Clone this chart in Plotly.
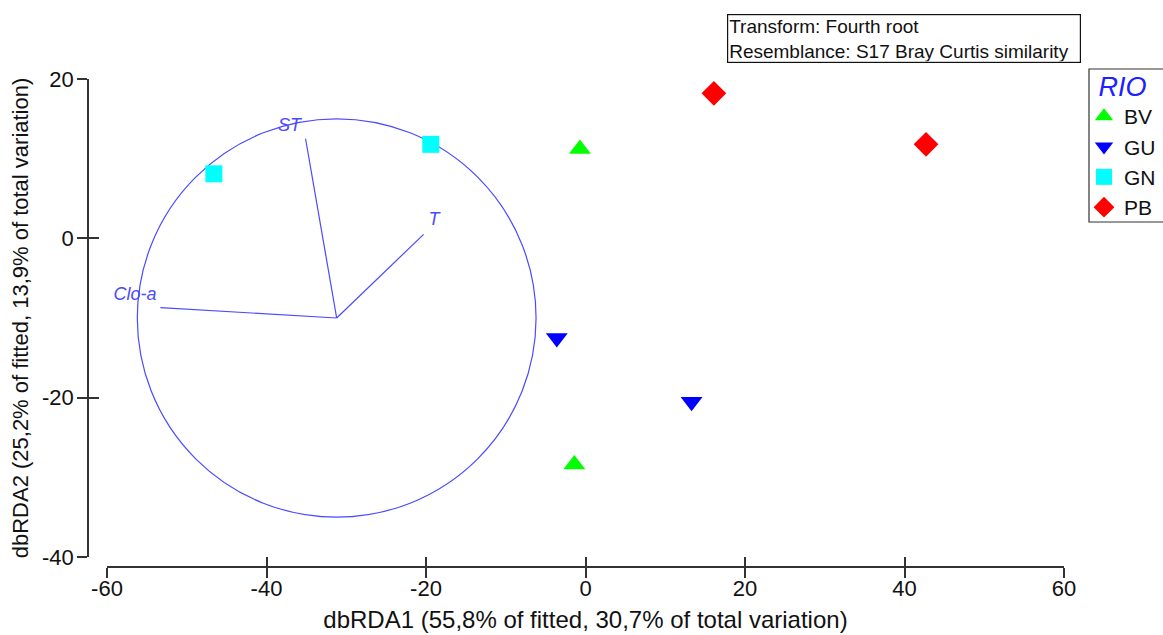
import plotly.graph_objects as go

# ---- data ----
groups = ["BV", "GU", "GN", "PB"]
colors = ["#00ff00", "#0000ff", "#00ffff", "#ff0000"]
symbols = ["triangle-up", "triangle-down", "square", "diamond"]
x_bv = [-0.7, -1.4]
y_bv = [11.2, -28.4]
x_gu = [-3.6, 13.3]
y_gu = [-12.5, -20.5]
x_gn = [-46.6, -19.4]
y_gn = [8.1, 11.8]
x_pb = [16.1, 42.7]
y_pb = [18.2, 11.8]
xs = [x_bv, x_gu, x_gn, x_pb]
ys = [y_bv, y_gu, y_gn, y_pb]
marker_sizes = [19, 19, 17, 19]

# vector overlay (origin, endpoints, labels)
vec_origin = (-31.2, -10.0)
vec_names = ["ST", "T", "Clo-a"]
vec_x = [-35.1, -20.3, -53.3]
vec_y = [12.5, 0.5, -8.7]
lab_x = [-37.1, -19.0, -56.5]
lab_y = [14.1, 2.3, -7.2]
circle_r = 25.0

x_ticks = [-60, -40, -20, 0, 20, 40, 60]
x_ticktext = ["-60", "-40", "-20", "0", "20", "40", "60"]
y_ticks = [-40, -20, 0, 20]
y_ticktext = ["-40", "-20", "0", "20"]

FONT = "Liberation Sans, Arial, sans-serif"
VBLUE = "#4a4aff"

# pixel layout helpers (plot area 88..1064 x 79..567)
L, R, T, B = 88, 1064, 79, 567
W, H = R - L, B - T
def px(xp):
    return (xp - L) / W
def py(yp):
    return (B - yp) / H

fig = go.Figure()

# circle
fig.add_shape(type="circle", xref="x", yref="y",
              x0=vec_origin[0] - circle_r, x1=vec_origin[0] + circle_r,
              y0=vec_origin[1] - circle_r, y1=vec_origin[1] + circle_r,
              line=dict(color=VBLUE, width=1.2), layer="below")

# vectors
for name, vx, vy in zip(vec_names, vec_x, vec_y):
    fig.add_trace(go.Scatter(x=[vec_origin[0], vx], y=[vec_origin[1], vy], mode="lines",
                             line=dict(color=VBLUE, width=1.2), showlegend=False,
                             hoverinfo="skip"))
fig.add_trace(go.Scatter(x=lab_x, y=lab_y, mode="text", text=vec_names,
                         textfont=dict(family=FONT, size=18, color=VBLUE, style="italic"),
                         showlegend=False, hoverinfo="skip"))

# points
for g, c, s, sz, gx, gy in zip(groups, colors, symbols, marker_sizes, xs, ys):
    fig.add_trace(go.Scatter(x=gx, y=gy, mode="markers", name=g,
                             marker=dict(color=c, symbol=s, size=sz, line=dict(width=0))))

axis_common = dict(showgrid=False, zeroline=False, showline=True, linecolor="#333333",
                   linewidth=1.5, tickcolor="#333333", tickwidth=1.5, ticklen=10,
                   tickfont=dict(family=FONT, size=22, color="#111111"))

fig.update_layout(
    width=1163, height=635,
    margin=dict(l=L, r=1163 - R, t=T, b=635 - B, autoexpand=False),
    plot_bgcolor="white", paper_bgcolor="white",
    font=dict(family=FONT, color="#111111"),
    xaxis=dict(range=[-60, 60], tickvals=x_ticks, ticktext=x_ticktext, ticks="outside",
               domain=[px(107), 1], anchor="free", position=0, ticklabelstandoff=-8,
               title=dict(text="dbRDA1 (55,8% of fitted, 30,7% of total variation)",
                          font=dict(family=FONT, size=24), standoff=10),
               **axis_common),
    yaxis=dict(range=[-40, 20], tickvals=y_ticks, ticktext=y_ticktext, ticks="outside",
               domain=[py(557), 1], anchor="free", position=0, ticklabelstandoff=-1,
               title=dict(text="dbRDA2 (25,2% of fitted, 13,9% of total variation)",
                          font=dict(family=FONT, size=22), standoff=6),
               **axis_common),
    xaxis2=dict(range=[-60, 60], tickvals=x_ticks, ticks="inside", overlaying="x",
                domain=[px(107), 1], anchor="free", position=0, showgrid=False,
                zeroline=False, showline=False, showticklabels=False,
                tickcolor="#333333", tickwidth=1.5, ticklen=10),
    yaxis2=dict(range=[-40, 20], tickvals=y_ticks, ticks="inside", overlaying="y",
                domain=[py(557), 1], anchor="free", position=0, showgrid=False,
                zeroline=False, showline=False, showticklabels=False,
                tickcolor="#333333", tickwidth=1.5, ticklen=10),
    legend=dict(x=px(1084), y=py(61), xanchor="left", yanchor="top",
                borderwidth=0, bgcolor="rgba(0,0,0,0)",
                font=dict(family=FONT, size=21, color="#111111"),
                title=dict(text="RIO", side="top center",
                           font=dict(family=FONT, size=27, color="#2020ff", style="italic")),
                tracegroupgap=0, itemwidth=30),
    showlegend=True,
)

# legend frame
fig.add_shape(type="rect", xref="paper", yref="paper",
              x0=px(1089), x1=px(1175), y0=py(222), y1=py(69),
              line=dict(color="#333333", width=1.2), fillcolor="rgba(0,0,0,0)")

# invisible trace on overlay axes so they render
fig.add_trace(go.Scatter(x=[0], y=[0], xaxis="x2", yaxis="y2", mode="markers",
                         marker=dict(opacity=0), showlegend=False, hoverinfo="skip"))

fig.add_annotation(xref="paper", yref="paper", x=px(727), y=py(14),
                   xanchor="left", yanchor="top", align="left", showarrow=False,
                   width=350, height=45, valign="middle",
                   text="Transform: Fourth root<br>Resemblance: S17 Bray Curtis similarity",
                   font=dict(family=FONT, size=19, color="#111111"),
                   bordercolor="#111111", borderwidth=1.2, borderpad=1, bgcolor="white")

fig.write_html("out.html")
